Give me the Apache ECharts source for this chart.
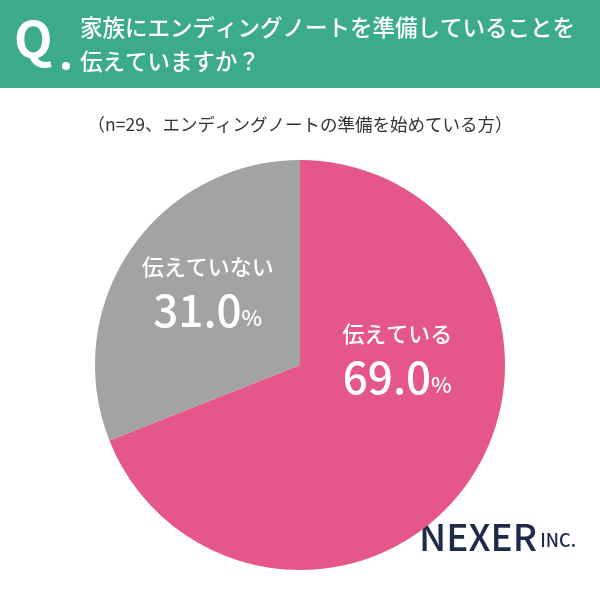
<!DOCTYPE html>
<html><head><meta charset="utf-8">
<script src="https://cdn.jsdelivr.net/npm/echarts@6/dist/echarts.min.js"></script>
<style>html,body{margin:0;padding:0;background:#fff}#c{width:600px;height:600px}</style>
</head><body><div id="c"></div>
<script>
const categories = ['伝えている', '伝えていない'];
const values = [69.0, 31.0];
const colors = ['#e5568a', '#a3a3a3'];
const F = '"Noto Sans CJK JP", "Noto Sans", sans-serif';
const chart = echarts.init(document.getElementById('c'));
chart.setOption({
  animation: false,
  graphic: [
    {type:'rect', shape:{x:0,y:0,width:600,height:88}, style:{fill:'#3bab8c'}},
    {type:'text', left:14, top:14, style:{text:'Q', fill:'#fff', font:'bold 50px '+F}},
    {type:'circle', shape:{cx:66,cy:66,r:4}, style:{fill:'#fff'}},
    {type:'text', left:80, top:10, style:{text:'家族にエンディングノートを準備していることを\n伝えていますか？', fill:'#fff', font:'500 22.5px '+F, lineHeight:34}},
    {type:'text', left:'center', top:116, style:{text:'（n=29、エンディングノートの準備を始めている方）', fill:'#333', font:'17.5px '+F}},
    {type:'text', right:24, top:518, style:{rich:{a:{fill:'#1e2a4a', font:'500 37px '+F},b:{fill:'#1e2a4a', font:'500 18px '+F, padding:[8,0,0,0]}}, text:'{a|NEXER} {b|INC.}'}}
  ],
  series: [{
    type:'pie', center:[300,365], radius:[0,205], startAngle:90,
    silent:true,
    data: categories.map((n,i)=>({name:n, value:values[i], itemStyle:{color:colors[i]}})),
    label:{position:'inside', formatter:p=>'{n|'+p.name+'}\n{v|'+p.value.toFixed(1)+'}{p|%}',
      rich:{n:{color:'#fff', fontSize:22, fontFamily:F, fontWeight:500, lineHeight:36},
            v:{color:'#fff', fontSize:44, fontFamily:F, fontWeight:500, lineHeight:52},
            p:{color:'#fff', fontSize:22, fontFamily:F, fontWeight:500, padding:[14,0,0,0]}}},
    labelLayout:p=>p.dataIndex===0?{dx:10,dy:-65}:{dx:-5,dy:-13},
    labelLine:{show:false}
  }]
});
</script></body></html>
